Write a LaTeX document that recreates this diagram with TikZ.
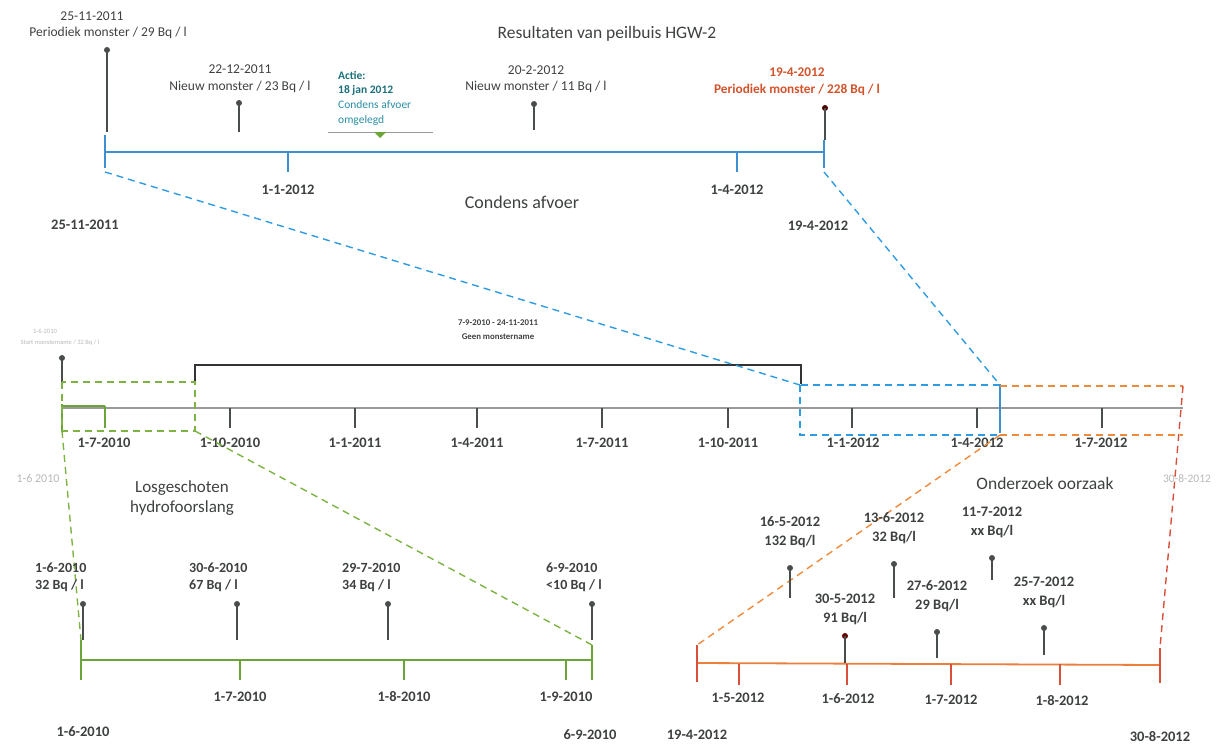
\documentclass[tikz,border=0pt]{standalone}
\usepackage{fontspec}
\setmainfont{Carlito}
\definecolor{txt}{HTML}{3E423F}
\definecolor{bax}{HTML}{3D8FD1}
\definecolor{bdash}{HTML}{2F9BE3}
\definecolor{gax}{HTML}{6BA53A}
\definecolor{gdash}{HTML}{7CB342}
\definecolor{odash}{HTML}{EF8A3C}
\definecolor{rax}{HTML}{D9503A}
\definecolor{rtxt}{HTML}{D2532B}
\definecolor{teal1}{HTML}{1A6F7A}
\definecolor{teal2}{HTML}{2A8FA6}
\definecolor{grayax}{HTML}{9A9A9A}
\definecolor{faint}{HTML}{B8B8B8}
\definecolor{stemc}{HTML}{4A4E4B}
\begin{document}
\begin{tikzpicture}[x=1pt,y=-1pt,
  lbl/.style={font=\fontsize{14.5}{16}\selectfont\bfseries, text=txt, inner sep=0pt},
  sm/.style={font=\fontsize{13.5}{15}\selectfont, text=txt, inner sep=0pt},
  big/.style={font=\fontsize{17.5}{20}\selectfont, text=txt, inner sep=0pt, align=center},
  vl/.style={font=\fontsize{14}{16}\selectfont\bfseries, text=txt, inner sep=0pt, anchor=west},
  dot/.style={circle, fill=stemc, inner sep=0pt, minimum size=6pt},
  stem/.style={draw=stemc, line width=1.3pt},
  tick/.style={draw=stemc, line width=1.2pt},
  baxis/.style={draw=bax, line width=1.6pt},
  gaxis/.style={draw=gax, line width=1.6pt},
  raxis/.style={draw=rax, line width=1.6pt},
  dsh/.style={dashed, dash pattern=on 7pt off 5pt, line width=1.4pt},
]
\useasboundingbox (0,0) rectangle (1220,747);

% ---------------- top timeline ----------------
\node[big] (title) at (607,34) {Resultaten van peilbuis HGW-2};
\coordinate (tL) at (105,152); \coordinate (tR) at (824,152);
\coordinate (tLb) at (105,172); \coordinate (tRb) at (824,172);
\draw[baxis] (tL) -- (tR);
\draw[baxis] (105,135) -- (105,168);
\draw[baxis] (824,140) -- (824,168);
\draw[baxis] (288,152) -- (288,172);
\draw[baxis] (737,152) -- (737,172);
\node[lbl] (t11) at (288,190) {1-1-2012};
\node[lbl] (t14) at (737,190) {1-4-2012};
\node[lbl] (t2511) at (85,225) {25-11-2011};
\node[lbl] (t194) at (818,226) {19-4-2012};
\node[big, font=\fontsize{18}{21}\selectfont] (condens) at (522,202) {Condens afvoer};

% stems top
\node[dot] (d1) at (107,50) {}; \coordinate (d1b) at (107,132);
\draw[stem] (d1.center) -- (d1b);
\node[sm] (d1t) at (92,16) {25-11-2011};
\node[sm] (d1v) at (108,33) {Periodiek monster / 29 Bq / l};

\node[dot] (d2) at (239,103) {}; \coordinate (d2b) at (239,132);
\draw[stem] (d2.center) -- (d2b);
\node[sm] (d2t) at (240,69) {22-12-2011};
\node[sm] (d2v) at (240,87) {Nieuw monster / 23 Bq / l};

\node[dot] (d3) at (534,104) {}; \coordinate (d3b) at (534,130);
\draw[stem] (d3.center) -- (d3b);
\node[sm] (d3t) at (536,70) {20-2-2012};
\node[sm] (d3v) at (536,87) {Nieuw monster / 11 Bq / l};

\node[dot, fill=black!70!red] (d4) at (825,108) {}; \coordinate (d4b) at (825,140);
\draw[stem] (d4.center) -- (d4b);
\node[sm, text=rtxt, font=\fontsize{13.3}{15}\selectfont\bfseries] (d4t) at (797,72) {19-4-2012};
\node[sm, text=rtxt, font=\fontsize{13.3}{15}\selectfont\bfseries] (d4v) at (797,90) {Periodiek monster / 228 Bq / l};

% Actie
\node[inner sep=0pt, anchor=west, text=teal1, font=\fontsize{11.5}{13}\selectfont\bfseries] (a1) at (338,75) {Actie:};
\node[inner sep=0pt, anchor=west, text=teal1, font=\fontsize{11.5}{13}\selectfont\bfseries] (a2) at (338,90) {18 jan 2012};
\node[inner sep=0pt, anchor=west, text=teal2, font=\fontsize{11.5}{13}\selectfont] (a3) at (338,105) {Condens afvoer};
\node[inner sep=0pt, anchor=west, text=teal2, font=\fontsize{11.5}{13}\selectfont] (a4) at (338,120) {omgelegd};
\draw[draw=grayax, line width=1pt] (328,132) -- (433,132);
\fill[gax] (374,132) -- (386,132) -- (380,138) -- cycle;

% ---------------- middle timeline ----------------
\coordinate (mL) at (62,408); \coordinate (mR) at (1183,408);
\draw[draw=grayax, line width=1.1pt] (mL) -- (mR);
\draw[draw=gax, line width=1.3pt] (62,406) -- (105,406);
\draw[draw=gax, line width=1.3pt] (105,406) -- (105,428);
\draw[draw=gax, line width=1.3pt] (62,404) -- (62,430);
\foreach \x in {230,355,477,602,728,852,977,1102} \draw[tick] (\x,408) -- (\x,428);
\foreach \x/\t in {104/1-7-2010,230/1-10-2010,355/1-1-2011,477/1-4-2011,602/1-7-2011,728/1-10-2011,853/1-1-2012,977/1-4-2012,1101/1-7-2012}
  \node[lbl] at (\x,443) {\t};

% start marker
\node[dot, minimum size=6pt] (d0) at (62,358) {}; \coordinate (d0b) at (62,386);
\draw[stem] (d0.center) -- (d0b);
\node[inner sep=0pt, text=faint, font=\fontsize{6.5}{8}\selectfont] (d0t) at (45,331) {1-6-2010};
\node[inner sep=0pt, text=faint, font=\fontsize{6.5}{8}\selectfont] (d0v) at (60,343) {Start monstername / 32 Bq / l};

% no-sampling bracket
\coordinate (brL) at (195,382); \coordinate (brR) at (801,384);
\draw[draw=black!80, line width=1.4pt] (brL) -- (195,365) -- (801,365) -- (brR);
\node[inner sep=0pt, text=txt, font=\fontsize{8.8}{10}\selectfont\bfseries] (gap1) at (498,323) {7-9-2010 - 24-11-2011};
\node[inner sep=0pt, text=txt, font=\fontsize{8.8}{10}\selectfont\bfseries] (gap2) at (498,337) {Geen monstername};

% zoom boxes
\coordinate (gzTL) at (62,382); \coordinate (gzBR) at (195,431);
\coordinate (gzBL) at (62,431);
\draw[gdash, dsh] (gzTL) rectangle (gzBR);

\coordinate (bzTL) at (800,385); \coordinate (bzBR) at (1000,435);
\coordinate (bzTR) at (1000,385);
\draw[bdash, dsh] (bzTL) rectangle (bzBR);
\draw[draw=bax, line width=1.6pt] (bzTR) -- (1000,433);

\coordinate (ozTR) at (1183,386); \coordinate (ozBR) at (1183,435);
\coordinate (ozBL) at (1000,435);
\draw[odash, dsh] (1000,386) -- (ozTR);
\draw[odash, dsh] (ozBL) -- (ozBR);

% zoom connectors
\draw[bdash, dsh] (tLb) -- (bzTL);
\draw[bdash, dsh] (tRb) -- (bzTR);

% ---------------- bottom left (green) ----------------
\coordinate (gL) at (81,660); \coordinate (gR) at (592,660);
\coordinate (gLt) at (81,640); \coordinate (gRt) at (592,645);
\draw[gaxis] (gL) -- (gR);
\draw[gaxis] (81,640) -- (81,680);
\draw[gaxis] (592,645) -- (592,680);
\foreach \x in {240,404,566} \draw[gaxis, line width=1.3pt] (\x,660) -- (\x,680);
\node[lbl] at (240,697) {1-7-2010};
\node[lbl] at (404,697) {1-8-2010};
\node[lbl] at (566,697) {1-9-2010};
\node[lbl] at (83,732) {1-6-2010};
\node[lbl] at (590,735) {6-9-2010};
\node[big, font=\fontsize{17}{20}\selectfont] (los) at (182,498) {Losgeschoten\\hydrofoorslang};
\node[inner sep=0pt, text=faint, font=\fontsize{12}{14}\selectfont] at (38,478) {1-6 2010};

\draw[gdash, dsh] (gzBL) -- (gLt);
\draw[gdash, dsh] (gzBR) -- (gRt);

\foreach \n/\x/\lx/\t/\v in {g1/83/35/1-6-2010/{32 Bq / l}, g2/237/189/30-6-2010/{67 Bq / l}, g3/388/342/29-7-2010/{34 Bq / l}, g4/592/546/6-9-2010/{<10 Bq / l}}{
  \node[dot] (\n) at (\x,604) {};
  \coordinate (\n b) at (\x,640);
  \draw[stem] (\n.center) -- (\n b);
  \node[vl] at (\lx,568) {\t};
  \node[vl] at (\lx,586) {\v};
}

% ---------------- bottom right (orange) ----------------
\coordinate (rL) at (697,663); \coordinate (rR) at (1160,665);
\coordinate (rLt) at (697,645); \coordinate (rRt) at (1160,648);
\draw[draw=odash!80!rax, line width=1.8pt] (rL) -- (rR);
\draw[raxis] (697,645) -- (697,682);
\draw[raxis] (1160,648) -- (1160,683);
\foreach \x in {739,847,951,1060} \draw[raxis, line width=1.3pt] (\x,664) -- (\x,685);
\node[lbl] at (738,698) {1-5-2012};
\node[lbl] at (848,699) {1-6-2012};
\node[lbl] at (951,700) {1-7-2012};
\node[lbl] at (1062,701) {1-8-2012};
\node[lbl] at (697,735) {19-4-2012};
\node[lbl] at (1160,737) {30-8-2012};
\node[big] (ond) at (1045,483) {Onderzoek oorzaak};
\node[inner sep=0pt, text=faint, font=\fontsize{11.5}{14}\selectfont] at (1187,479) {30-8-2012};

\draw[odash, dsh] (ozBL) -- (rLt);
\draw[rax, dsh] (ozTR) -- (rRt);

\foreach \n/\x/\dy/\by/\t/\v in {r1/790/568/598/16-5-2012/{132 Bq/l}, r2/894/564/598/13-6-2012/{32 Bq/l}, r3/992/558/580/11-7-2012/{xx Bq/l}, r5/937/632/658/27-6-2012/{29 Bq/l}, r6/1044/628/655/25-7-2012/{xx Bq/l}}{
  \node[dot] (\n) at (\x,\dy) {};
  \coordinate (\n b) at (\x,\by);
  \draw[stem] (\n.center) -- (\n b);
  \node[lbl] at (\x,\dy-46) {\t};
  \node[lbl] at (\x,\dy-26) {\v};
}
\node[dot, fill=black!60!red] (r4) at (845,636) {};
\coordinate (r4b) at (845,663);
\draw[stem] (r4.center) -- (r4b);
\node[lbl] at (845,599) {30-5-2012};
\node[lbl] at (845,619) {91 Bq/l};

\end{tikzpicture}
\end{document}
